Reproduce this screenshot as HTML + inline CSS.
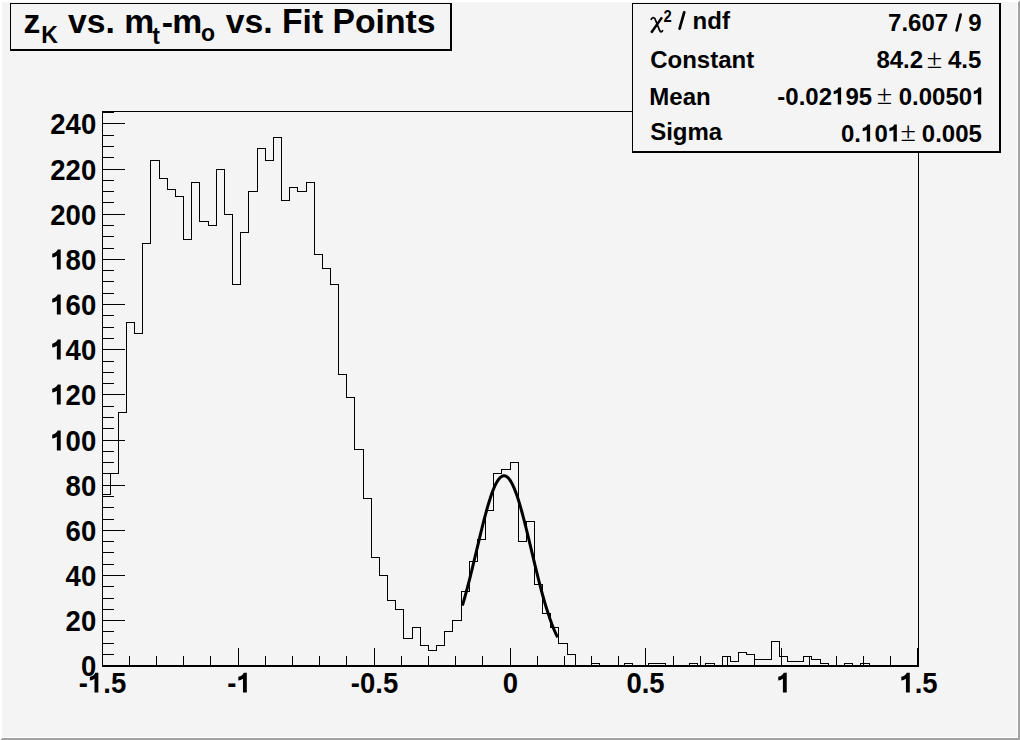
<!DOCTYPE html>
<html><head><meta charset="utf-8"><title>zK vs. mt-mo vs. Fit Points</title>
<style>
html,body{margin:0;padding:0;background:#f4f4f4;overflow:hidden;}
svg{display:block;}
text{font-family:"Liberation Sans",sans-serif;font-weight:bold;fill:#000;font-kerning:none;}
text.chi{font-family:"Liberation Serif",serif;font-style:italic;font-weight:normal;}
text.pm{font-family:"Liberation Serif",serif;font-weight:normal;}
</style></head><body>
<svg width="1020" height="740" viewBox="0 0 1020 740">
<rect x="0" y="0" width="1020" height="740" fill="#f4f4f4"/>
<g shape-rendering="crispEdges">
<polygon points="0,0 1020,0 1018,2 2,2 2,738 0,740" fill="#ffffff"/>
<polygon points="1020,0 1020,740 0,740 2,738 1018,738 1018,2" fill="#a2a2a2"/>
<rect x="1017" y="2" width="1" height="736" fill="#ffffff"/>
<rect x="2" y="737" width="1016" height="1" fill="#ffffff"/>
<rect x="10" y="3" width="442" height="48" fill="#000"/>
<rect x="11" y="4" width="439" height="45" fill="#f4f4f4"/>
<path d="M102,111.5H918.5V665M102.5,111V666" stroke="#000" stroke-width="1" fill="none"/>
<rect x="102" y="665" width="817" height="2" fill="#000"/>
<path d="M102,665.5h23M102,654.5h12M102,643.5h12M102,631.5h12M102,620.5h23M102,609.5h12M102,598.5h12M102,586.5h12M102,575.5h23M102,564.5h12M102,552.5h12M102,541.5h12M102,530.5h23M102,519.5h12M102,507.5h12M102,496.5h12M102,485.5h23M102,473.5h12M102,462.5h12M102,451.5h12M102,440.5h23M102,428.5h12M102,417.5h12M102,406.5h12M102,394.5h23M102,383.5h12M102,372.5h12M102,361.5h12M102,349.5h23M102,338.5h12M102,327.5h12M102,315.5h12M102,304.5h23M102,293.5h12M102,281.5h12M102,270.5h12M102,259.5h23M102,248.5h12M102,236.5h12M102,225.5h12M102,214.5h23M102,202.5h12M102,191.5h12M102,180.5h12M102,169.5h23M102,157.5h12M102,146.5h12M102,135.5h12M102,123.5h23M102,112.5h12M102.5,665V648M129.5,665V656M156.5,665V656M183.5,665V656M210.5,665V656M238.5,665V648M265.5,665V656M292.5,665V656M319.5,665V656M346.5,665V656M374.5,665V648M401.5,665V656M428.5,665V656M455.5,665V656M482.5,665V656M510.5,665V648M537.5,665V656M564.5,665V656M591.5,665V656M618.5,665V656M645.5,665V648M673.5,665V656M700.5,665V656M727.5,665V656M754.5,665V656M781.5,665V648M809.5,665V656M836.5,665V656M863.5,665V656M890.5,665V656M917.5,665V648" stroke="#000" stroke-width="1" fill="none"/>
<path d="M102.5,665.5V494.5H110.5V473.5H118.5V412.5H126.5V322.5H134.5V333.5H142.5V243.5H150.5V160.5H159.5V178.5H167.5V189.5H175.5V196.5H183.5V239.5H191.5V182.5H199.5V221.5H208.5V225.5H216.5V169.5H224.5V214.5H232.5V284.5H240.5V232.5H248.5V191.5H257.5V148.5H265.5V160.5H273.5V137.5H281.5V200.5H289.5V187.5H297.5V191.5H306.5V182.5H314.5V254.5H322.5V268.5H330.5V284.5H338.5V374.5H346.5V397.5H354.5V449.5H363.5V498.5H371.5V557.5H379.5V575.5H387.5V600.5H395.5V609.5H403.5V638.5H412.5V627.5H420.5V645.5H428.5V650.5H436.5V645.5H444.5V631.5H452.5V620.5H461.5V591.5H469.5V561.5H477.5V539.5H485.5V510.5H493.5V473.5H501.5V469.5H510.5V462.5H518.5V541.5H526.5V521.5H534.5V584.5H542.5V613.5H550.5V627.5H558.5V643.5H567.5V654.5H575.5V665.5H583.5V665.5H591.5V663.5H599.5V665.5H607.5V665.5H616.5V665.5H624.5V663.5H632.5V665.5H640.5V665.5H648.5V663.5H656.5V663.5H665.5V665.5H673.5V665.5H681.5V665.5H689.5V663.5H697.5V665.5H705.5V663.5H714.5V665.5H722.5V656.5H730.5V661.5H738.5V652.5H746.5V654.5H754.5V659.5H762.5V659.5H771.5V641.5H779.5V656.5H787.5V661.5H795.5V661.5H803.5V656.5H811.5V659.5H820.5V663.5H828.5V665.5H836.5V665.5H844.5V663.5H852.5V665.5H860.5V663.5H869.5V665.5H877.5V665.5H885.5V665.5H893.5V665.5H901.5V665.5H909.5V665.5H918.5V665.5" stroke="#000" stroke-width="1" fill="none"/>
</g>
<path d="M462.40,605.54L463.35,602.32L464.30,599.02L465.26,595.63L466.21,592.15L467.16,588.60L468.11,584.97L469.06,581.27L470.02,577.51L470.97,573.69L471.92,569.82L472.87,565.92L473.82,561.97L474.78,558.00L475.73,554.02L476.68,550.02L477.63,546.03L478.58,542.04L479.54,538.08L480.49,534.15L481.44,530.26L482.39,526.43L483.34,522.66L484.30,518.96L485.25,515.35L486.20,511.83L487.15,508.42L488.10,505.13L489.06,501.97L490.01,498.95L490.96,496.07L491.91,493.35L492.86,490.80L493.82,488.42L494.77,486.23L495.72,484.23L496.67,482.42L497.62,480.83L498.58,479.44L499.53,478.26L500.48,477.31L501.43,476.57L502.38,476.07L503.34,475.79L504.29,475.73L505.24,475.91L506.19,476.31L507.14,476.94L508.10,477.80L509.05,478.87L510.00,480.16L510.95,481.67L511.90,483.38L512.86,485.29L513.81,487.40L514.76,489.69L515.71,492.16L516.66,494.81L517.62,497.61L518.57,500.57L519.52,503.67L520.47,506.90L521.42,510.26L522.38,513.73L523.33,517.30L524.28,520.96L525.23,524.70L526.18,528.50L527.14,532.37L528.09,536.28L529.04,540.23L529.99,544.20L530.94,548.19L531.90,552.19L532.85,556.18L533.80,560.16L534.75,564.12L535.70,568.04L536.66,571.93L537.61,575.77L538.56,579.56L539.51,583.29L540.46,586.95L541.42,590.54L542.37,594.05L543.32,597.48L544.27,600.82L545.22,604.08L546.18,607.24L547.13,610.31L548.08,613.28L549.03,616.15L549.98,618.92L550.94,621.59L551.89,624.16L552.84,626.63L553.79,628.99L554.74,631.25L555.70,633.42L556.65,635.48L557.60,637.45" stroke="#000" stroke-width="3" fill="none" stroke-linejoin="round"/>
<g>
<text x="80.91" y="0" font-size="27.5" transform="translate(0,675.50) scale(1,1.045)">0</text>
<text x="65.61" y="0" font-size="27.5" transform="translate(0,630.50) scale(1,1.045)">20</text>
<text x="65.61" y="0" font-size="27.5" transform="translate(0,585.50) scale(1,1.045)">40</text>
<text x="65.61" y="0" font-size="27.5" transform="translate(0,540.50) scale(1,1.045)">60</text>
<text x="65.61" y="0" font-size="27.5" transform="translate(0,495.50) scale(1,1.045)">80</text>
<path d="M238,0L378,0L378,-695L268,-695C248,-635 172,-565 69,-548L69,-418C130,-428 190,-448 238,-482Z" transform="translate(50.32,450.50) scale(0.02750,0.02874)"/><text x="65.61" y="0" font-size="27.5" transform="translate(0,450.50) scale(1,1.045)">00</text>
<path d="M238,0L378,0L378,-695L268,-695C248,-635 172,-565 69,-548L69,-418C130,-428 190,-448 238,-482Z" transform="translate(50.32,404.50) scale(0.02750,0.02874)"/><text x="65.61" y="0" font-size="27.5" transform="translate(0,404.50) scale(1,1.045)">20</text>
<path d="M238,0L378,0L378,-695L268,-695C248,-635 172,-565 69,-548L69,-418C130,-428 190,-448 238,-482Z" transform="translate(50.32,359.50) scale(0.02750,0.02874)"/><text x="65.61" y="0" font-size="27.5" transform="translate(0,359.50) scale(1,1.045)">40</text>
<path d="M238,0L378,0L378,-695L268,-695C248,-635 172,-565 69,-548L69,-418C130,-428 190,-448 238,-482Z" transform="translate(50.32,314.50) scale(0.02750,0.02874)"/><text x="65.61" y="0" font-size="27.5" transform="translate(0,314.50) scale(1,1.045)">60</text>
<path d="M238,0L378,0L378,-695L268,-695C248,-635 172,-565 69,-548L69,-418C130,-428 190,-448 238,-482Z" transform="translate(50.32,269.50) scale(0.02750,0.02874)"/><text x="65.61" y="0" font-size="27.5" transform="translate(0,269.50) scale(1,1.045)">80</text>
<text x="50.32" y="0" font-size="27.5" transform="translate(0,224.50) scale(1,1.045)">200</text>
<text x="50.32" y="0" font-size="27.5" transform="translate(0,179.50) scale(1,1.045)">220</text>
<text x="50.32" y="0" font-size="27.5" transform="translate(0,133.50) scale(1,1.045)">240</text>
<text x="78.81" y="0" font-size="27.5" transform="translate(0,692.60) scale(1,1.045)">-</text><path d="M238,0L378,0L378,-695L268,-695C248,-635 172,-565 69,-548L69,-418C130,-428 190,-448 238,-482Z" transform="translate(87.96,692.60) scale(0.02750,0.02874)"/><text x="103.26" y="0" font-size="27.5" transform="translate(0,692.60) scale(1,1.045)">.5</text>
<text x="227.27" y="0" font-size="27.5" transform="translate(0,692.60) scale(1,1.045)">-</text><path d="M238,0L378,0L378,-695L268,-695C248,-635 172,-565 69,-548L69,-418C130,-428 190,-448 238,-482Z" transform="translate(236.43,692.60) scale(0.02750,0.02874)"/>
<text x="350.81" y="0" font-size="27.5" transform="translate(0,692.60) scale(1,1.045)">-0.5</text>
<text x="502.85" y="0" font-size="27.5" transform="translate(0,692.60) scale(1,1.045)">0</text>
<text x="626.39" y="0" font-size="27.5" transform="translate(0,692.60) scale(1,1.045)">0.5</text>
<path d="M238,0L378,0L378,-695L268,-695C248,-635 172,-565 69,-548L69,-418C130,-428 190,-448 238,-482Z" transform="translate(776.35,692.60) scale(0.02750,0.02874)"/>
<path d="M238,0L378,0L378,-695L268,-695C248,-635 172,-565 69,-548L69,-418C130,-428 190,-448 238,-482Z" transform="translate(899.39,692.60) scale(0.02750,0.02874)"/><text x="914.68" y="0" font-size="27.5" transform="translate(0,692.60) scale(1,1.045)">.5</text>
</g>
<g>
<text x="23.50" y="32.80" font-size="33.7">z</text>
<text x="41.30" y="0" font-size="23" transform="translate(0,42.90) scale(1,1.04)">K</text>
<text x="68.10" y="32.80" font-size="33.7">vs</text><text x="105.58" y="32.80" font-size="33.7">.</text>
<text x="124.20" y="32.80" font-size="33.7">m</text>
<text x="152.20" y="44.00" font-size="23">t</text>
<text x="161.80" y="33.90" font-size="33.7">-</text>
<text x="172.30" y="32.80" font-size="33.7">m</text>
<text x="201.00" y="40.60" font-size="23">o</text>
<text x="225.80" y="32.80" font-size="33.7">vs</text><text x="263.28" y="0" font-size="33.7" transform="translate(0,32.80) scale(1,1.045)">.</text><text x="282.01" y="0" font-size="33.7" transform="translate(0,32.80) scale(1,1.045)">F</text><text x="302.60" y="32.80" font-size="33.7">it</text><text x="332.54" y="0" font-size="33.7" transform="translate(0,32.80) scale(1,1.045)">P</text><text x="355.02" y="32.80" font-size="33.7">oints</text>
</g>
<g shape-rendering="crispEdges">
<rect x="632" y="3" width="369" height="150" fill="#000"/>
<rect x="633" y="4" width="366" height="147" fill="#f4f4f4"/>
</g>
<g>
<path d="M662.0,17.4L651.2,32.7" stroke="#000" stroke-width="2.5" fill="none" stroke-linecap="butt"/>
<path d="M651.0,20.0C651.6,17.6 653.6,16.6 655.0,18.8L659.6,30.4C660.5,32.6 662.0,32.4 662.8,30.0" stroke="#000" stroke-width="1.7" fill="none"/>
<text x="663.40" y="0" font-size="14.8" transform="translate(0,21.80) scale(1,1.16)">2</text>
<path d="M684.2,12.4L679.6,28.6" stroke="#000" stroke-width="2.7" stroke-linecap="round" fill="none"/>
<text x="692.60" y="28.90" font-size="24">ndf</text>
<text x="888.04" y="0" font-size="24" transform="translate(0,31.30) scale(1,1.03)">7.607</text>
<path d="M960.6,14.6L956.6,30.4" stroke="#000" stroke-width="2.7" stroke-linecap="round" fill="none"/>
<text x="968.35" y="0" font-size="24" transform="translate(0,31.30) scale(1,1.03)">9</text>
<text x="650.20" y="0" font-size="24" transform="translate(0,67.80) scale(1,1.03)">C</text><text x="667.53" y="67.80" font-size="24">onstant</text>
<text x="876.39" y="0" font-size="24" transform="translate(0,67.80) scale(1,1.03)">84.2</text>
<text x="926.8" y="67.6" font-size="28" class="pm">&#177;</text>
<text x="947.94" y="0" font-size="24" transform="translate(0,67.80) scale(1,1.03)">4.5</text>
<text x="649.30" y="0" font-size="24" transform="translate(0,104.60) scale(1,1.03)">M</text><text x="669.29" y="104.60" font-size="24">ean</text>
<text x="777.35" y="0" font-size="24" transform="translate(0,104.60) scale(1,1.03)">-0.02</text><path d="M238,0L378,0L378,-695L268,-695C248,-635 172,-565 69,-548L69,-418C130,-428 190,-448 238,-482Z" transform="translate(832.06,104.60) scale(0.02400,0.02472)"/><text x="845.40" y="0" font-size="24" transform="translate(0,104.60) scale(1,1.03)">95</text>
<text x="876.7" y="104.4" font-size="28" class="pm">&#177;</text>
<text x="898.75" y="0" font-size="24" transform="translate(0,104.60) scale(1,1.03)">0.0050</text><path d="M238,0L378,0L378,-695L268,-695C248,-635 172,-565 69,-548L69,-418C130,-428 190,-448 238,-482Z" transform="translate(972.15,104.60) scale(0.02400,0.02472)"/>
<text x="650.20" y="0" font-size="24" transform="translate(0,139.70) scale(1,1.03)">S</text><text x="666.21" y="139.70" font-size="24">igma</text>
<text x="841.04" y="0" font-size="24" transform="translate(0,141.60) scale(1,1.03)">0.</text><path d="M238,0L378,0L378,-695L268,-695C248,-635 172,-565 69,-548L69,-418C130,-428 190,-448 238,-482Z" transform="translate(861.06,141.60) scale(0.02400,0.02472)"/><text x="874.40" y="0" font-size="24" transform="translate(0,141.60) scale(1,1.03)">0</text><path d="M238,0L378,0L378,-695L268,-695C248,-635 172,-565 69,-548L69,-418C130,-428 190,-448 238,-482Z" transform="translate(887.75,141.60) scale(0.02400,0.02472)"/>
<text x="900.4" y="141.4" font-size="28" class="pm">&#177;</text>
<text x="921.84" y="0" font-size="24" transform="translate(0,141.60) scale(1,1.03)">0.005</text>
</g>
</svg>
</body></html>
